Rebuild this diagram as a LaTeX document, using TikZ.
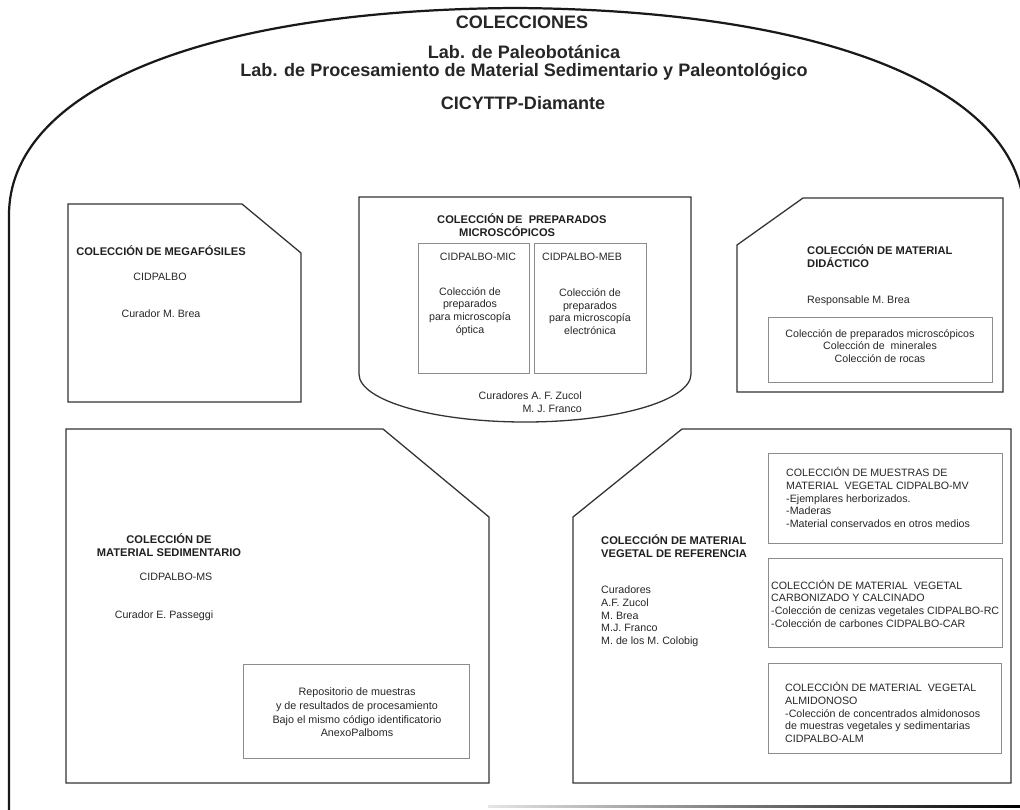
\documentclass[tikz,border=0pt]{standalone}
\usepackage{fontspec}
\setmainfont{Liberation Sans}
\usepackage{tikz}
\usetikzlibrary{positioning}
\newcommand{\ttlfont}{\fontsize{15.4}{15.6}\selectfont\bfseries}
\newcommand{\hdfont}{\fontsize{9.5}{11.1}\selectfont\bfseries}
\newcommand{\bdfont}{\fontsize{9.1}{10.85}\selectfont}
\newcommand{\rpfont}{\fontsize{9.2}{11.7}\selectfont}

\begin{document}
\begin{tikzpicture}[
  x=0.03cm, y=-0.03cm,
  frame/.style={draw=black!90, line width=1.9pt},
  panel/.style={draw=black!80, line width=1.1pt},
  subpanel/.style={draw=black!45, line width=0.7pt},
  title/.style={font=\ttlfont, text=black!85, inner sep=0pt, align=center},
  head/.style={font=\hdfont, text=black!88, inner sep=0pt},
  txt/.style={font=\bdfont, text=black!85, inner sep=0pt}
]
\useasboundingbox (0,0) rectangle (1020,809);
\clip (0,0) rectangle (1020,809);

% Outer frame
\draw[frame] (9,815) -- (9,215) .. controls (9,95) and (190,10) .. (515,8)
  .. controls (840,10) and (1024,95) .. (1024,215) -- (1024,260);
\shade[left color=black!10, right color=black] (488,805) rectangle (1020,807.6);

% Titles
\node[title] (coll) at (522,22) {COLECCIONES};
\node[title] (labs) at (524,62.5) {Lab. de Paleobotánica\\Lab. de Procesamiento de Material Sedimentario y Paleontológico};
\node[title] (cicyttp) at (523,103) {CICYTTP-Diamante};

% Top row panels
\draw[panel] (68,204) -- (242,204) -- (301,253) -- (301,402) -- (68,402) -- cycle;
\draw[panel] (359,197) -- (691,197) -- (691,374) .. controls (691,400.5) and (616.7,422) .. (525,422)
  .. controls (433.3,422) and (359,400.5) .. (359,374) -- cycle;
\draw[panel] (803,198) -- (1003,198) -- (1003,392) -- (737,392) -- (737,245) -- cycle;

% Top row inner boxes
\draw[subpanel] (418,243) rectangle (529,373);
\draw[subpanel] (534,243) rectangle (646,373);
\draw[subpanel] (768,317) rectangle (992,382);

% Megafosiles
\node[head] (megahd) at (161,251) {COLECCIÓN DE MEGAFÓSILES};
\node[txt] (megacod) at (160,277) {CIDPALBO};
\node[txt] (megacur) at (161,314) {Curador M. Brea};

% Preparados
\node[head, align=left, anchor=west] (prephd) at (437,225.5) {COLECCIÓN DE\ \ PREPARADOS\\\hspace*{0.66cm}MICROSCÓPICOS};
\node[txt] (miccod) at (478,257) {CIDPALBO-MIC};
\node[txt] (mebcod) at (582,257) {CIDPALBO-MEB};
\node[txt, align=center] (micdesc) at (470,311.5) {Colección de\\preparados\\para microscopía\\óptica};
\node[txt, align=center] (mebdesc) at (590,311.5) {Colección de\\preparados\\para microscopía\\electrónica};
\node[txt, align=right, anchor=east] (prepcur) at (582,402) {Curadores A. F. Zucol\\M. J. Franco};

% Didactico
\node[head, align=left, anchor=west] (didhd) at (807,256) {COLECCIÓN DE MATERIAL\\DIDÁCTICO};
\node[txt, anchor=west] (didres) at (807,301) {Responsable M. Brea};
\node[txt, align=center] (didlist) at (880,346) {Colección de preparados microscópicos\\Colección de\ \ minerales\\Colección de rocas};

% Bottom row panels
\draw[panel] (66,429) -- (383,429) -- (489,517) -- (489,783) -- (66,783) -- cycle;
\draw[panel] (682,429) -- (1011,429) -- (1011,783) -- (573,783) -- (573,517) -- cycle;

% Bottom row inner boxes
\draw[subpanel] (243,664) rectangle (469,758);
\draw[subpanel] (768,453) rectangle (1002,543);
\draw[subpanel] (768,558) rectangle (1002,647);
\draw[subpanel] (768,663) rectangle (1001,753);

% Sedimentario
\node[head, align=center] (sedhd) at (169,545.5) {COLECCIÓN DE\\MATERIAL SEDIMENTARIO};
\node[txt] (sedcod) at (176,577) {CIDPALBO-MS};
\node[txt] (sedcur) at (164,616) {Curador E. Passeggi};
\node[txt, font=\rpfont, align=center] (sedrep) at (357,712.5) {Repositorio de muestras\\y de resultados de procesamiento\\Bajo el mismo código identificatorio\\AnexoPalboms};

% Vegetal
\node[head, align=left, anchor=west] (veghd) at (601,546.5) {COLECCIÓN DE MATERIAL\\VEGETAL DE REFERENCIA};
\node[txt, align=left, anchor=west] (vegcur) at (601,616.5) {Curadores\\A.F. Zucol\\M. Brea\\M.J. Franco\\M. de los M. Colobig};
\node[txt, align=left, anchor=west] (vegmv) at (786,497.5) {COLECCIÓN DE MUESTRAS DE\\MATERIAL\ \ VEGETAL CIDPALBO-MV\\-Ejemplares herborizados.\\-Maderas\\-Material conservados en otros medios};
\node[txt, align=left, anchor=west] (vegcar) at (771,603.5) {COLECCIÓN DE MATERIAL\ \ VEGETAL\\CARBONIZADO Y CALCINADO\\-Colección de cenizas vegetales CIDPALBO-RC\\-Colección de carbones CIDPALBO-CAR};
\node[txt, align=left, anchor=west] (vegalm) at (785,712.5) {COLECCIÓN DE MATERIAL\ \ VEGETAL\\ALMIDONOSO\\-Colección de concentrados almidonosos\\de muestras vegetales y sedimentarias\\CIDPALBO-ALM};

\end{tikzpicture}
\end{document}
